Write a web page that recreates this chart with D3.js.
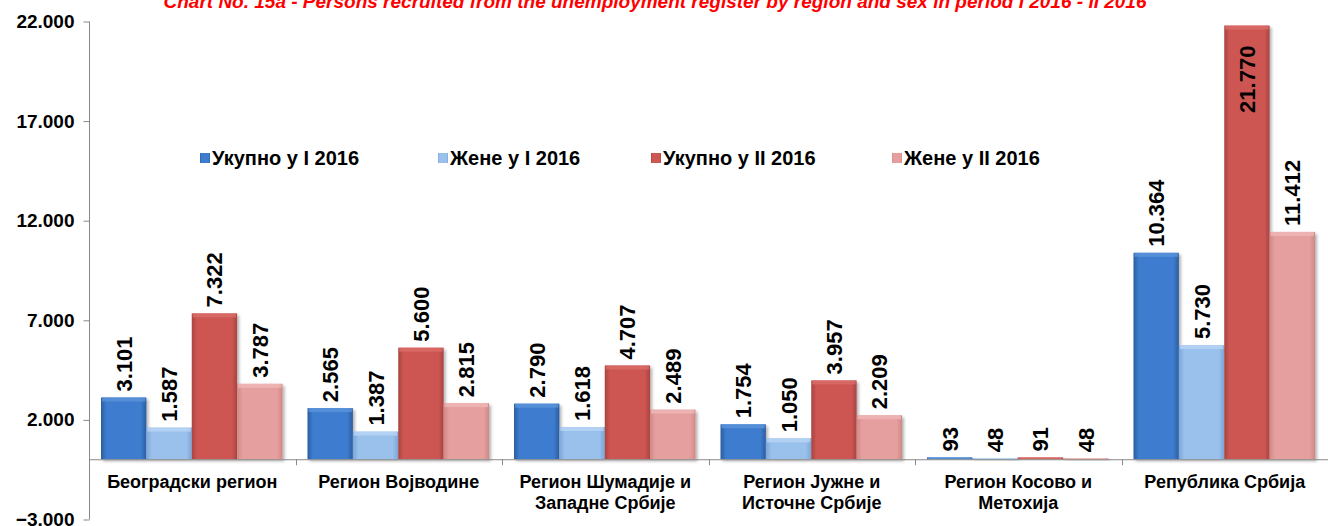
<!DOCTYPE html>
<html>
<head>
<meta charset="utf-8">
<script src="https://cdnjs.cloudflare.com/ajax/libs/d3/7.8.5/d3.min.js"></script>
<style>
	body { margin: 0; background: #fff; }
	text { font-family: Arial, "Liberation Sans", sans-serif; font-weight: bold; }
</style>
</head>
<body>
<svg id="chart" width="1328" height="526"></svg>
<script>
	// chart data
	var regions = [
		['Београдски регион'],
		['Регион Војводине'],
		['Регион Шумадије и', 'Западне Србије'],
		['Регион Јужне и', 'Источне Србије'],
		['Регион Косово и', 'Метохија'],
		['Република Србија']
	];
	var seriesNames = ['Укупно у I 2016', 'Жене у I 2016', 'Укупно у II 2016', 'Жене у II 2016'];
	var totalI   = [3101, 2565, 2790, 1754, 93, 10364];
	var womenI   = [1587, 1387, 1618, 1050, 48, 5730];
	var totalII  = [7322, 5600, 4707, 3957, 91, 21770];
	var womenII  = [3787, 2815, 2489, 2209, 48, 11412];
	var yTicks = [-3000, 2000, 7000, 12000, 17000, 22000];
	var title = 'Chart No. 15a -  Persons recruited from the unemployment register by region and sex in period I 2016 - II 2016';

	var series = [totalI, womenI, totalII, womenII];
	// dark, mid, light per series for the bevel look
	var colors = [
		['#2c5d9f', '#3d7cce', '#5a93db'],
		['#7aa6d8', '#9ac0ec', '#b8d5f5'],
		['#a94340', '#cd5753', '#d96d69'],
		['#d08886', '#e59f9e', '#efb8b7']
	];

	var fmt = d3.formatLocale({decimal: ',', thousands: '.', grouping: [3], currency: ['', '']}).format(',d');

	var svg = d3.select('#chart');
	var plotLeft = 89, plotRight = 1328, plotTop = 21, plotBottom = 519;

	var y = d3.scaleLinear().domain([-3000, 22000]).range([plotBottom, plotTop]);
	var x0 = d3.scaleBand().domain(d3.range(regions.length)).range([plotLeft, plotRight]);
	var x1 = d3.scaleBand().domain(d3.range(series.length)).range([12, x0.bandwidth() - 13]);

	var defs = svg.append('defs');
	colors.forEach(function(c, i) {
		var g = defs.append('linearGradient').attr('id', 'grad' + i)
			.attr('x1', '0').attr('x2', '1').attr('y1', '0').attr('y2', '0');
		g.append('stop').attr('offset', '0').attr('stop-color', c[0]);
		g.append('stop').attr('offset', '0.12').attr('stop-color', c[1]);
		g.append('stop').attr('offset', '0.88').attr('stop-color', c[1]);
		g.append('stop').attr('offset', '1').attr('stop-color', c[0]);
	});
	var sh = defs.append('filter').attr('id', 'shadow').attr('x', '-20%').attr('y', '-20%').attr('width', '150%').attr('height', '150%');
	sh.append('feDropShadow').attr('dx', 2).attr('dy', 2).attr('stdDeviation', 1.5).attr('flood-color', '#000').attr('flood-opacity', 0.3);

	// title
	svg.append('text')
		.attr('x', 655).attr('y', 8)
		.attr('text-anchor', 'middle')
		.style('font-size', '19px')
		.style('font-style', 'italic')
		.style('fill', '#ff0000')
		.text(title);

	// gridlines
	svg.append('g').selectAll('line').data(yTicks).join('line')
		.attr('x1', plotLeft).attr('x2', plotRight)
		.attr('y1', function(d) { return y(d) + 0.5; })
		.attr('y2', function(d) { return y(d) + 0.5; })
		.attr('stroke', '#b4b4b4').attr('stroke-width', 2)
		.attr('filter', 'url(#shadow)');

	// y axis
	var yAxis = svg.append('g').attr('transform', 'translate(' + (plotLeft + 0.5) + ',0.5)')
		.call(d3.axisLeft(y).tickValues(yTicks).tickFormat(fmt).tickSize(6).tickSizeOuter(0).tickPadding(9));
	yAxis.select('.domain').attr('stroke', '#888').attr('d', 'M0,' + plotTop + 'V' + plotBottom);
	yAxis.selectAll('.tick line').attr('stroke', '#888');
	yAxis.selectAll('.tick text').style('font-size', '19px').style('font-family', 'Arial, "Liberation Sans", sans-serif').style('font-weight', 'bold').attr('fill', '#000');

	// bars
	var groups = svg.append('g').selectAll('g').data(regions).join('g')
		.attr('transform', function(d, i) { return 'translate(' + x0(i) + ',0)'; });

	groups.each(function(r, ri) {
		var g = d3.select(this);
		series.forEach(function(s, si) {
			var v = s[ri];
			var bx = x1(si), bw = x1.bandwidth();
			var by = y(Math.max(v, 0)), bh = Math.max(Math.abs(y(v) - y(0)), 1.5);
			g.append('rect')
				.attr('x', bx).attr('y', by)
				.attr('width', bw).attr('height', bh)
				.attr('fill', 'url(#grad' + si + ')')
				.attr('filter', 'url(#shadow)');
			// top bevel
			g.append('rect')
				.attr('x', bx + 1).attr('y', by)
				.attr('width', bw - 2).attr('height', Math.min(4, bh))
				.attr('fill', colors[si][2]).attr('opacity', 0.8);
			// value label, rotated
			var inside = y(v) - 75 < plotTop;
			var lx = bx + bw / 2 + 8;
			var ly = inside ? y(v) + 20 : y(v) - 6;
			g.append('text')
				.attr('transform', 'translate(' + lx + ',' + ly + ') rotate(-90)')
				.attr('text-anchor', inside ? 'end' : 'start')
				.style('font-size', '22px')
				.attr('fill', '#000')
				.text(fmt(v));
		});
	});

	// x axis line at zero with category ticks
	svg.append('line')
		.attr('x1', plotLeft).attr('x2', plotRight)
		.attr('y1', y(0) + 0.5).attr('y2', y(0) + 0.5)
		.attr('stroke', '#888');
	svg.append('g').selectAll('line').data(d3.range(regions.length + 1)).join('line')
		.attr('x1', function(i) { return Math.round(plotLeft + i * x0.step()) + 0.5; })
		.attr('x2', function(i) { return Math.round(plotLeft + i * x0.step()) + 0.5; })
		.attr('y1', y(0)).attr('y2', y(0) + 6)
		.attr('stroke', '#888');

	// category labels
	svg.append('g').selectAll('text').data(regions).join('text')
		.attr('x', function(d, i) { return x0(i) + x0.bandwidth() / 2; })
		.attr('y', 488)
		.attr('text-anchor', 'middle')
		.style('font-size', '18px')
		.attr('fill', '#000')
		.each(function(lines) {
			var t = d3.select(this);
			lines.forEach(function(l, k) {
				t.append('tspan')
					.attr('x', t.attr('x'))
					.attr('dy', k === 0 ? 0 : 21)
					.text(l);
			});
		});

	// legend
	var legendX = [200, 438, 651, 892];
	var leg = svg.append('g').selectAll('g').data(seriesNames).join('g')
		.attr('transform', function(d, i) { return 'translate(' + legendX[i] + ',158)'; });
	leg.append('rect')
		.attr('x', 0).attr('y', -5).attr('width', 10).attr('height', 10)
		.attr('fill', function(d, i) { return 'url(#grad' + i + ')'; });
	leg.append('text')
		.attr('x', 12).attr('y', 7)
		.style('font-size', '20px')
		.attr('fill', '#000')
		.text(function(d) { return d; });
</script>
</body>
</html>
